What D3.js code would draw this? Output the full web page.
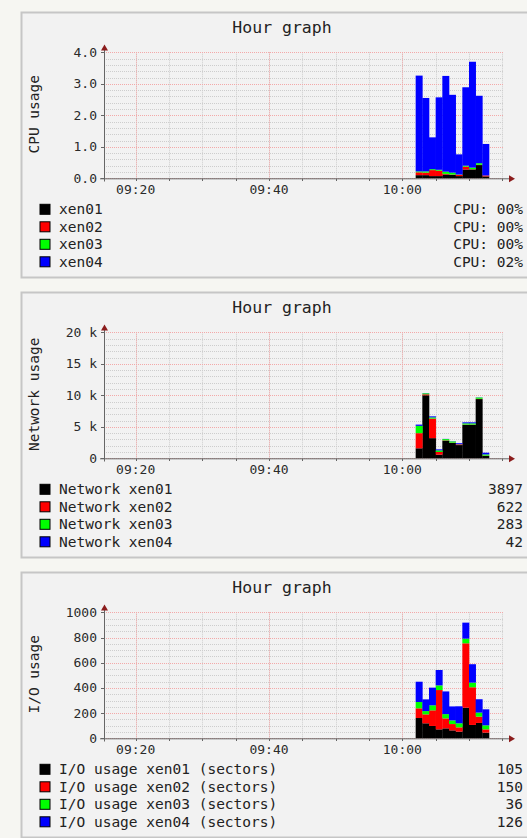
<!DOCTYPE html>
<meta charset="utf-8">
<head>
  <title>Hour graph</title>
</head>

<style>
body {
  margin: 0;
  background: #f6f6f2;
  font-family: "DejaVu Sans Mono", monospace;
}
</style>

<body>
  <div id="content">
    <svg width="527" height="838"></svg>
  </div>

  <script src="https://cdnjs.cloudflare.com/ajax/libs/d3/7.8.5/d3.min.js"></script>

  <script>
// sample times (start of each 1 minute step)
var times = ['10:02', '10:03', '10:04', '10:05', '10:06', '10:07', '10:08', '10:09', '10:10', '10:11', '10:12'];
var hosts = ['xen01', 'xen02', 'xen03', 'xen04'];
var colors = ['#000000', '#ff0000', '#00ff00', '#0000ff'];
var timeLabels = ['09:20', '09:40', '10:00'];

// CPU usage
var cpuXen01 = [0.10, 0.10, 0.07, 0.07, 0.12, 0.11, 0.07, 0.28, 0.28, 0.42, 0.06];
var cpuXen02 = [0.09, 0.08, 0.19, 0.17, 0.02, 0.01, 0.04, 0.09, 0.01, 0.01, 0.03];
var cpuXen03 = [0.03, 0.04, 0.03, 0.03, 0.07, 0.06, 0.01, 0.03, 0.05, 0.05, 0.00];
var cpuXen04 = [3.04, 2.33, 1.01, 2.30, 3.04, 2.47, 0.64, 2.49, 3.36, 2.14, 1.00];
var cpuLegend = ['CPU: 00%', 'CPU: 00%', 'CPU: 00%', 'CPU: 02%'];

// Network usage
var netXen01 = [1590, 10000, 3200, 580, 2800, 2430, 2100, 5300, 5300, 9400, 370];
var netXen02 = [2400, 160, 3100, 420, 50, 50, 110, 50, 50, 50, 50];
var netXen03 = [1160, 160, 200, 260, 200, 200, 30, 200, 200, 200, 200];
var netXen04 = [200, 30, 160, 160, 30, 30, 160, 160, 160, 30, 270];
var netLegend = ['3897', '622', '283', '42'];

// I/O usage
var ioXen01 = [161, 119, 98, 71, 79, 63, 53, 243, 106, 122, 45];
var ioXen02 = [77, 71, 124, 312, 79, 50, 34, 511, 299, 50, 26];
var ioXen03 = [50, 26, 40, 37, 34, 29, 32, 37, 37, 32, 32];
var ioXen04 = [161, 93, 140, 122, 180, 111, 135, 127, 146, 106, 127];
var ioLegend = ['105', '150', '36', '126'];

var svg = d3.select('#content svg');
var parseTime = d3.timeParse('%H:%M');

var t0 = new Date(parseTime('09:15').getTime() + 15000);
var t1 = new Date(t0.getTime() + 3600000);

var x = d3.scaleTime()
  .domain([t0, t1])
  .range([104, 504]);

var panels = [
  {
    top: 12, ylabel: 'CPU usage', max: 4, major: 1, minor: 0.2,
    fmt: d3.format('.1f'),
    series: [cpuXen01, cpuXen02, cpuXen03, cpuXen04],
    names: hosts,
    values: cpuLegend
  },
  {
    top: 292, ylabel: 'Network usage', max: 20000, major: 5000, minor: 1000,
    fmt: function(v) { return v === 0 ? '0' : (v / 1000) + ' k'; },
    series: [netXen01, netXen02, netXen03, netXen04],
    names: hosts.map(function(h) { return 'Network ' + h; }),
    values: netLegend
  },
  {
    top: 572, ylabel: 'I/O usage', max: 1000, major: 200, minor: 50,
    fmt: d3.format('d'),
    series: [ioXen01, ioXen02, ioXen03, ioXen04],
    names: hosts.map(function(h) { return 'I/O usage ' + h + ' (sectors)'; }),
    values: ioLegend
  }
];

panels.forEach(drawPanel);

function drawPanel(p) {
  var g = svg.append('g').attr('transform', 'translate(0,' + p.top + ')');

  g.append('rect')
    .attr('x', 21.5).attr('y', 0.5)
    .attr('width', 530).attr('height', 265)
    .attr('fill', '#f2f2f2')
    .attr('stroke', '#c6c6c6')
    .attr('stroke-width', 2);

  g.append('text')
    .attr('x', 282).attr('y', 21)
    .attr('text-anchor', 'middle')
    .attr('font-size', '16.5px')
    .attr('fill', '#222')
    .text('Hour graph');

  var y = d3.scaleLinear()
    .domain([0, p.max])
    .range([166.3, 40.3]);

  var minorY = d3.range(0, p.max + p.minor / 2, p.minor);
  var majorY = d3.range(0, p.max + p.major / 2, p.major);
  var minorX = d3.timeMinute.every(5).range(t0, t1);
  var majorX = timeLabels.map(parseTime);

  // Grid
  g.selectAll('.minor-y').data(minorY).enter().append('line')
    .attr('x1', 104).attr('x2', 504)
    .attr('y1', function(d) { return Math.round(y(d)) + 0.5; })
    .attr('y2', function(d) { return Math.round(y(d)) + 0.5; })
    .attr('stroke', '#cdcdcd').attr('stroke-dasharray', '1,1');
  g.selectAll('.minor-x').data(minorX).enter().append('line')
    .attr('y1', 40.3).attr('y2', 166.3)
    .attr('x1', function(d) { return Math.round(x(d)) + 0.5; })
    .attr('x2', function(d) { return Math.round(x(d)) + 0.5; })
    .attr('stroke', '#cdcdcd').attr('stroke-dasharray', '1,1');
  g.selectAll('.major-y').data(majorY).enter().append('line')
    .attr('x1', 104).attr('x2', 504)
    .attr('y1', function(d) { return Math.round(y(d)) + 0.5; })
    .attr('y2', function(d) { return Math.round(y(d)) + 0.5; })
    .attr('stroke', '#f3a9a9').attr('stroke-dasharray', '1,1');
  g.selectAll('.major-x').data(majorX).enter().append('line')
    .attr('y1', 40.3).attr('y2', 166.3)
    .attr('x1', function(d) { return Math.round(x(d)) + 0.5; })
    .attr('x2', function(d) { return Math.round(x(d)) + 0.5; })
    .attr('stroke', '#f3a9a9').attr('stroke-dasharray', '1,1');

  // Stacked bars
  var table = times.map(function(t, i) {
    var row = {time: parseTime(t)};
    hosts.forEach(function(h, k) { row[h] = p.series[k][i]; });
    return row;
  });
  var stack = d3.stack().keys(hosts)(table);

  stack.forEach(function(layer, k) {
    g.selectAll('.bar' + k).data(layer).enter().append('rect')
      .attr('x', function(d) { return x(d.data.time); })
      .attr('width', function(d) { return x(d3.timeMinute.offset(d.data.time, 1)) - x(d.data.time) + 0.3; })
      .attr('y', function(d) { return y(d[1]); })
      .attr('height', function(d) { return Math.max(0, y(d[0]) - y(d[1])); })
      .attr('fill', colors[k]);
  });

  // Axes
  g.append('line')
    .attr('x1', 100).attr('x2', 509)
    .attr('y1', 166.8).attr('y2', 166.8)
    .attr('stroke', '#666').attr('stroke-width', 1);
  g.append('line')
    .attr('x1', 104.5).attr('x2', 104.5)
    .attr('y1', 37).attr('y2', 169.5)
    .attr('stroke', '#666').attr('stroke-width', 1);
  g.append('path')
    .attr('d', 'M104.5,32.5 L101,38.5 L108,38.5 Z')
    .attr('fill', '#8b1c1c');
  g.append('path')
    .attr('d', 'M515,166.8 L509,163.3 L509,170.3 Z')
    .attr('fill', '#8b1c1c');

  g.selectAll('.ytick').data(majorY).enter().append('line')
    .attr('x1', 101).attr('x2', 104)
    .attr('y1', function(d) { return Math.round(y(d)) + 0.5; })
    .attr('y2', function(d) { return Math.round(y(d)) + 0.5; })
    .attr('stroke', '#666');
  g.selectAll('.xtick').data(minorX).enter().append('line')
    .attr('y1', 166.8).attr('y2', 169)
    .attr('x1', function(d) { return Math.round(x(d)) + 0.5; })
    .attr('x2', function(d) { return Math.round(x(d)) + 0.5; })
    .attr('stroke', '#666');

  g.selectAll('.ylab').data(majorY).enter().append('text')
    .attr('x', 97)
    .attr('y', function(d) { return y(d) + 4.5; })
    .attr('text-anchor', 'end')
    .attr('font-size', '13px')
    .attr('fill', '#2a2a2a')
    .text(p.fmt);
  g.selectAll('.xlab').data(majorX).enter().append('text')
    .attr('x', function(d) { return x(d); })
    .attr('y', 182)
    .attr('text-anchor', 'middle')
    .attr('font-size', '13px')
    .attr('fill', '#2a2a2a')
    .text(d3.timeFormat('%H:%M'));

  g.append('text')
    .attr('transform', 'translate(38.5,' + (103.3 - 1) + ') rotate(-90)')
    .attr('text-anchor', 'middle')
    .attr('font-size', '14.5px')
    .attr('fill', '#222')
    .text(p.ylabel);

  // Legend
  var leg = g.selectAll('.legend').data(p.names).enter().append('g')
    .attr('transform', function(d, i) { return 'translate(0,' + (197.3 + i * 17.5) + ')'; });
  leg.append('rect')
    .attr('x', 40).attr('y', -5)
    .attr('width', 10).attr('height', 10)
    .attr('fill', function(d, i) { return colors[i]; })
    .attr('stroke', '#000');
  leg.append('text')
    .attr('x', 59).attr('y', 5)
    .attr('font-size', '14.5px')
    .attr('fill', '#222')
    .text(function(d) { return d; });
  leg.append('text')
    .attr('x', 523).attr('y', 5)
    .attr('text-anchor', 'end')
    .attr('font-size', '14.5px')
    .attr('fill', '#222')
    .text(function(d, i) { return p.values[i]; });
}
  </script>
</body>
</html>
